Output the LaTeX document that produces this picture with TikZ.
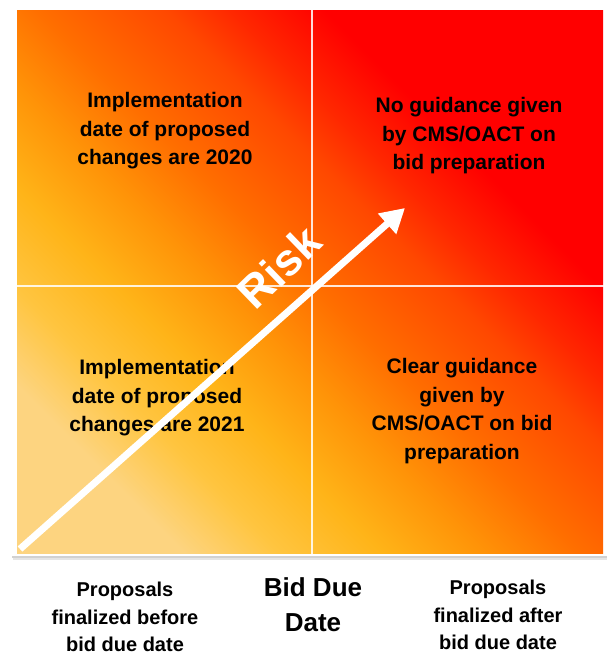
\documentclass[tikz,border=0pt]{standalone}
\usepackage{fontspec}
\setmainfont{Liberation Sans}
\usetikzlibrary{arrows.meta,positioning}

\definecolor{paleamber}{HTML}{FDD480}
\definecolor{softamber}{HTML}{FFC540}
\definecolor{amber}{HTML}{FFB418}
\definecolor{darkamber}{HTML}{FF9408}
\definecolor{midorange}{HTML}{FF6E00}
\definecolor{deeporange}{HTML}{FF4800}
\definecolor{redorange}{HTML}{FF2800}
\definecolor{riskred}{HTML}{FF0000}

% diagonal ramp, light at the low end and red at the high end
\pgfdeclarehorizontalshading{riskramp}{100bp}{%
  color(0bp)=(paleamber); color(25bp)=(paleamber); color(31bp)=(softamber);
  color(37.5bp)=(amber); color(43.75bp)=(darkamber); color(50bp)=(midorange);
  color(58bp)=(deeporange); color(62bp)=(redorange); color(68bp)=(riskred);
  color(100bp)=(riskred)}

\begin{document}
\begin{tikzpicture}[x=1pt,y=-1pt,
    cell/.style={font=\bfseries\fontsize{21}{28.5}\selectfont, align=center},
    axislabel/.style={font=\bfseries\fontsize{20}{27.5}\selectfont, align=center}]
  \useasboundingbox (0,0) rectangle (607,656);

  % frame with a soft shadow
  \fill[black!10] (13,10) rectangle (609,560);
  \fill[black!18] (12,9) rectangle (608,558);
  \fill[white] (12,7) rectangle (607,556);
  \shade[shading=riskramp, shading angle=45] (17,10) rectangle (603,553);

  % quadrant dividers
  \draw[white, opacity=0.85, line width=1.6pt] (312,8) -- (312,554);
  \draw[white, opacity=0.85, line width=1.6pt] (13,286) -- (606,286);

  % the four quadrants
  \node[cell] (topleft) at (165,131) {Implementation\\date of proposed\\changes are 2020};
  \node[cell] (topright) at (469,136) {No guidance given\\by CMS/OACT on\\bid preparation};
  \node[cell] (botleft) at (157,398) {Implementation\\date of proposed\\changes are 2021};
  \node[cell] (botright) at (462,411) {Clear guidance\\given by\\CMS/OACT on bid\\preparation};

  % risk arrow
  \coordinate (low) at (20,549);
  \coordinate (high) at (405,208);
  \draw[white, line width=7pt, -{Triangle[length=24pt,width=26pt]}] (low) -- (high);
  \node[rotate=44, text=white, font=\bfseries\fontsize{45}{45}\selectfont] (risk) at (279,267) {Risk};

  % labels under the chart
  \node[axislabel] (before) at (125,617) {Proposals\\finalized before\\bid due date};
  \node[font=\bfseries\fontsize{26}{35}\selectfont, align=center] (due) at (313,605) {Bid Due\\Date};
  \node[axislabel] (after) at (498,615) {Proposals\\finalized after\\bid due date};
\end{tikzpicture}
\end{document}
